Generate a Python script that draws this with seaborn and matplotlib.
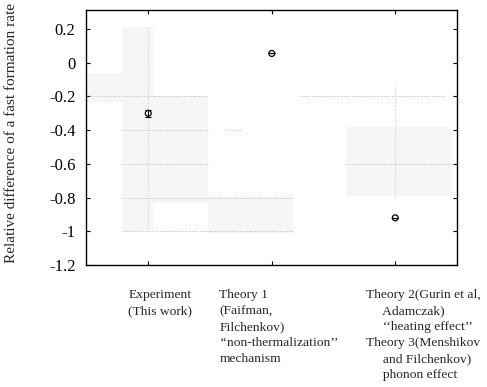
import matplotlib
matplotlib.use("Agg")
import matplotlib.pyplot as plt
import seaborn as sns
import pandas as pd

# ---- data ----
categories = ["Experiment", "Theory 1", "Theory 2/3"]
values = [-0.30, 0.055, -0.92]
errors = [0.02, 0.0, 0.0]
cat_labels = [
    "Experiment\n(This work)",
    "Theory 1\n(Faifman,\nFilchenkov)\n\u2018\u2018non-thermalization\u2019\u2019\nmechanism",
    "Theory 2(Gurin et al,\n     Adamczak)\n     \u2018\u2018heating effect\u2019\u2019\nTheory 3(Menshikov\n     and Filchenkov)\n     phonon effect",
]
y_ticks = [0.2, 0, -0.2, -0.4, -0.6, -0.8, -1.0, -1.2]
y_tick_labels = ["0.2", "0", "-0.2", "-0.4", "-0.6", "-0.8", "-1", "-1.2"]
ylabel = "Relative difference of a fast formation rate"

# light shaded ranges (x0, x1, y_low, y_high) in category units
band_x0 = [-0.21, -0.21, -0.50, 0.48, 1.60]
band_x1 = [0.04, 0.48, -0.21, 1.17, 2.46]
band_lo = [-1.00, -0.83, -0.23, -1.01, -0.79]
band_hi = [0.21, -0.20, -0.06, -0.79, -0.38]

# faint dotted guide lines (y, x0, x1)
guide_y = [-0.2, -0.4, -0.6, -0.8, -1.0, -0.2, -0.6, -0.4]
guide_x0 = [-0.50, -0.21, -0.21, -0.21, -0.21, 1.22, 1.60, 0.64]
guide_x1 = [0.48, 0.48, 0.48, 1.17, 1.17, 2.41, 2.46, 0.76]
vguide_x = [0, 2]
vguide_lo = [-1.0, -0.80]
vguide_hi = [0.21, -0.13]

sns.set_style("ticks")
plt.rcParams["font.family"] = ["Liberation Serif", "DejaVu Serif"]

fig = plt.figure(figsize=(4.87, 3.87), dpi=100)
ax = fig.add_axes([0.1776, 0.3152, 0.9384 - 0.1776, 0.9729 - 0.3152])

for x0, x1, lo, hi in zip(band_x0, band_x1, band_lo, band_hi):
    ax.fill_between([x0, x1], [lo, lo], [hi, hi], color="#f6f6f6", lw=0, zorder=0)
for y, x0, x1 in zip(guide_y, guide_x0, guide_x1):
    ax.plot([x0, x1], [y, y], ls=(0, (1, 2)), color="#a8a8a8", lw=0.6, zorder=1)
for x, lo, hi in zip(vguide_x, vguide_lo, vguide_hi):
    ax.plot([x, x], [lo, hi], ls=(0, (1, 2)), color="#b8b8b8", lw=0.6, zorder=1)

df = pd.DataFrame({"pos": range(len(categories)), "value": values,
                   "err": errors, "cat": categories})
ax.errorbar(df["pos"], df["value"], yerr=df["err"], fmt="none",
            ecolor="black", elinewidth=0.8, capsize=2, capthick=0.8, zorder=3)
sns.scatterplot(data=df, x="pos", y="value", ax=ax, marker="o", s=18,
                facecolor="none", edgecolor="black", linewidth=0.9,
                legend=False, zorder=4)

ax.set_xlim(-0.5, 2.5)
ax.set_ylim(-1.2, 0.31)
ax.set_yticks(y_ticks)
ax.set_yticklabels(y_tick_labels, fontsize=12)
ax.set_xticks(list(range(len(categories))))
ax.set_xticklabels([])
ax.tick_params(axis="both", direction="in", length=3, width=0.8,
               top=True, right=True, pad=6, colors="black")
ax.tick_params(axis="y", pad=8)
for s in ax.spines.values():
    s.set_linewidth(1.0)
    s.set_color("black")
ax.set_xlabel("")
ax.set_ylabel("")

fig.text(12 / 487, 1 - 133 / 387, ylabel, rotation=90, fontsize=11,
         ha="center", va="center")

label_x = [-0.16, 0.575, 1.765]
for lx, lab in zip(label_x, cat_labels):
    ax.text(lx, -0.095, lab, transform=ax.get_xaxis_transform(),
            ha="left", va="top", fontsize=9.7, linespacing=1.44)

fig.savefig("out.png", dpi=100)
